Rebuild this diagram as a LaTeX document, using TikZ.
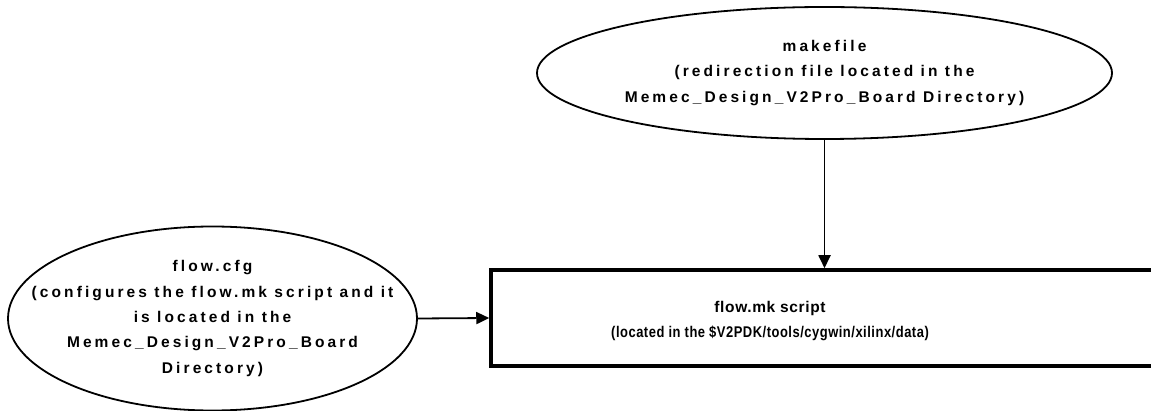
\documentclass[tikz,border=0pt]{standalone}
\usepackage{fontspec}
\setmainfont{Liberation Sans}
\newfontfamily\ellfont[LetterSpace=20]{Liberation Sans}
\newfontfamily\boxfont[LetterSpace=4]{Liberation Sans}
\usetikzlibrary{shapes.geometric,arrows.meta}
\tikzset{
  ellnode/.style={ellipse, draw=black, line width=1.8pt, inner sep=0pt, align=center,
    font=\ellfont\bfseries\fontsize{15.5}{25.3}\selectfont},
  boxnode/.style={rectangle, draw=black, line width=3.5pt, inner sep=0pt},
  boxtext/.style={align=center, font=\boxfont\bfseries\fontsize{15.5}{25}\selectfont},
  conn/.style={line width=1.8pt, -{Triangle[length=13pt,width=12pt]}}
}
\begin{document}
\begin{tikzpicture}[x=1pt,y=-1pt]
\useasboundingbox (0,0) rectangle (1151,411);
\begin{scope}
\clip (0,0) rectangle (1151,411);
\node[ellnode, inner xsep=-40pt, minimum width=575pt, minimum height=132pt] (mk) at (824.5,73)
  {makefile\\(redirection file located in the\\Memec\_Design\_V2Pro\_Board Directory)};
\node[ellnode, inner xsep=-48pt, inner ysep=-5pt, minimum width=409pt, minimum height=184pt] (cfg) at (212.5,318.5)
  {flow.cfg\\(configures the flow.mk script and it\\is located in the\\Memec\_Design\_V2Pro\_Board\\Directory)};
\node[boxnode, minimum width=720pt, minimum height=96pt] (box) at (851,318) {};
\node[boxtext] (boxlabel) at (770,321)
  {flow.mk script\\\scalebox{0.835}[1]{(located in the \$V2PDK/tools/cygwin/xilinx/data)}};
\draw[conn] (mk.south) -- (mk.south |- box.north);
\draw[conn] (cfg.east) -- (box.west);
\end{scope}
\end{tikzpicture}
\end{document}
